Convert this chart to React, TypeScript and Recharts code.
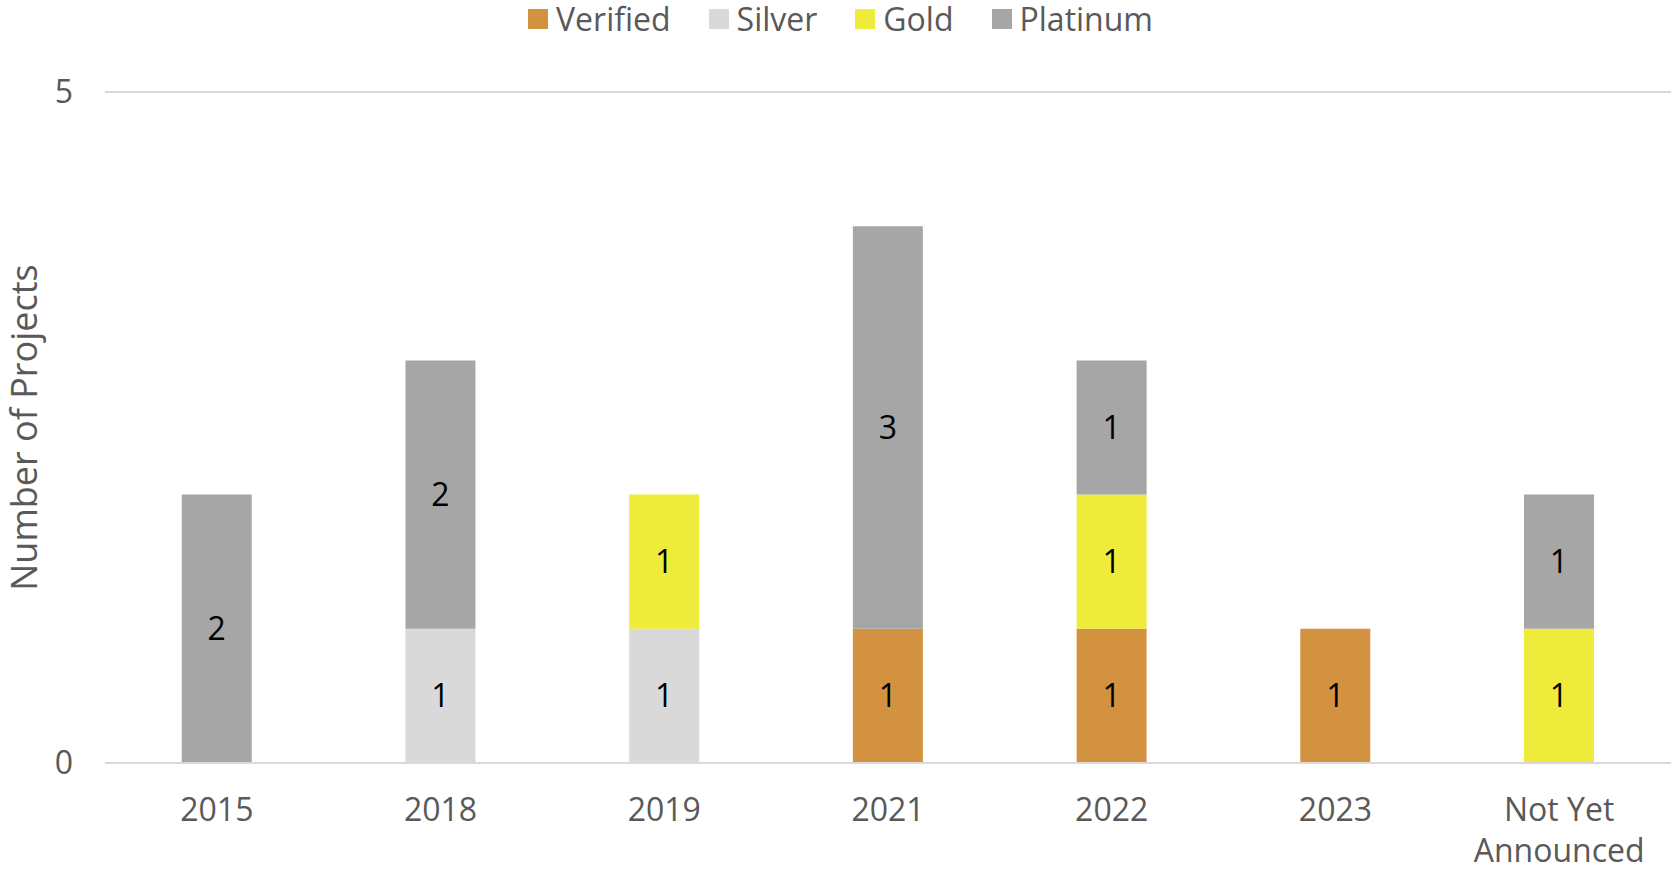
import { BarChart, Bar, XAxis, YAxis, CartesianGrid, LabelList } from "recharts";

const categories = ["2015", "2018", "2019", "2021", "2022", "2023", "Not Yet Announced"];
const verified = [0, 0, 0, 1, 1, 1, 0];
const silver = [0, 1, 1, 0, 0, 0, 0];
const gold = [0, 0, 1, 0, 1, 0, 1];
const platinum = [2, 2, 0, 3, 1, 0, 1];
const yTicks = [0, 5];

const seriesDefs = [
  { key: "verified", name: "Verified", color: "#D39240" },
  { key: "silver", name: "Silver", color: "#D9D9D9" },
  { key: "gold", name: "Gold", color: "#EFEB3A" },
  { key: "platinum", name: "Platinum", color: "#A6A6A6" },
];

const tickLines: Record<string, string[]> = {
  "Not Yet Announced": ["Not Yet", "Announced"],
};

const data = categories.map((c, i) => ({
  category: c,
  verified: verified[i],
  silver: silver[i],
  gold: gold[i],
  platinum: platinum[i],
}));

const FONT = "'Open Sans', sans-serif";
const TEXT = "#595959";

function XTick(props: any) {
  const { x, y, payload } = props;
  const lines = tickLines[payload.value] ?? [payload.value];
  return (
    <text x={x} y={y} textAnchor="middle" fill={TEXT} fontSize={32} fontFamily={FONT}>
      {lines.map((l, i) => (
        <tspan key={i} x={x} dy={i === 0 ? 58 : 41}>{l}</tspan>
      ))}
    </text>
  );
}

function YLabel(props: any) {
  const { viewBox } = props;
  const cx = viewBox.x + 23;
  const cy = viewBox.y + viewBox.height / 2;
  return (
    <text
      x={cx}
      y={cy}
      transform={`rotate(-90 ${cx} ${cy})`}
      textAnchor="middle"
      dominantBaseline="central"
      fill={TEXT}
      fontSize={36}
      fontFamily={FONT}
    >
      Number of Projects
    </text>
  );
}

const hideZero = (v: any) => (v ? v : "");

export default function App() {
  return (
    <div style={{ position: "absolute", left: 0, top: 0, width: 1671, height: 870, background: "#fff" }}>
      {/* legend */}
      <div
        style={{
          position: "absolute",
          top: 0,
          left: 5,
          width: 1671,
          height: 38,
          display: "flex",
          justifyContent: "center",
          alignItems: "center",
          fontFamily: FONT,
          fontSize: 32,
          color: TEXT,
        }}
      >
        {seriesDefs.map((s, i) => (
          <div key={s.key} style={{ display: "flex", alignItems: "center", marginLeft: i === 0 ? 0 : 38 }}>
            <span style={{ width: 20, height: 20, background: s.color, marginRight: 8, display: "inline-block" }} />
            <span style={{ lineHeight: "38px" }}>{s.name}</span>
          </div>
        ))}
      </div>
      <BarChart
        width={1671}
        height={870}
        data={data}
        margin={{ top: 92, right: 0, left: 0, bottom: 0 }}
        barCategoryGap="34.3%"
      >
        <CartesianGrid vertical={false} stroke="#D9D9D9" strokeWidth={2} />
        <XAxis
          dataKey="category"
          axisLine={{ stroke: "#D9D9D9", strokeWidth: 2 }}
          tickLine={false}
          tickSize={0}
          tickMargin={0}
          interval={0}
          tick={<XTick />}
          height={107}
        />
        <YAxis
          domain={[0, 5]}
          ticks={yTicks}
          width={105}
          axisLine={false}
          tickLine={false}
          tickSize={0}
          tickMargin={32}
          tick={{ fill: TEXT, fontSize: 32, fontFamily: FONT }}
          label={<YLabel />}
        />
        {seriesDefs.map((s) => (
          <Bar key={s.key} dataKey={s.key} name={s.name} stackId="a" fill={s.color} isAnimationActive={false}>
            <LabelList
              dataKey={s.key}
              position="center"
              formatter={hideZero}
              fill="#000"
              fontSize={32}
              fontFamily={FONT}
            />
          </Bar>
        ))}
      </BarChart>
    </div>
  );
}
